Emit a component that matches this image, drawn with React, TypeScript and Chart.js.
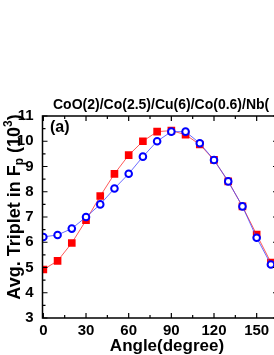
import React, { useEffect, useRef } from "react";
import { Chart, registerables } from "chart.js";

Chart.register(...registerables);

const angles = [0, 10, 20, 30, 40, 50, 60, 70, 80, 90, 100, 110, 120, 130, 140, 150, 160];
const redSquares = [4.92, 5.26, 5.97, 6.87, 7.83, 8.71, 9.45, 10.0, 10.38, 10.42, 10.26, 9.87, 9.26, 8.41, 7.42, 6.3, 5.2];
const blueCircles = [6.21, 6.29, 6.54, 7.0, 7.5, 8.13, 8.71, 9.39, 10.0, 10.38, 10.38, 9.92, 9.26, 8.41, 7.42, 6.18, 5.12];
const xTicks = [0, 30, 60, 90, 120, 150];
const yTicks = [3, 4, 5, 6, 7, 8, 9, 10, 11];
const titleText = "CoO(2)/Co(2.5)/Cu(6)/Co(0.6)/Nb(";
const panelLabel = "(a)";
const xTitle = "Angle(degree)";

const FONT = "'Liberation Sans', Arial, sans-serif";
const CW = 310;
const CH = 355;

const framePlugin = {
  id: "frame",
  afterDraw(chart: any) {
    const ctx = chart.ctx;
    const ca = chart.chartArea;
    const xs = chart.scales.x;
    const ys = chart.scales.y;
    ctx.save();
    ctx.strokeStyle = "#000";
    ctx.lineWidth = 1.5;
    ctx.beginPath();
    ctx.moveTo(ca.left, ca.top);
    ctx.lineTo(ca.right, ca.top);
    ctx.lineTo(ca.right, ca.bottom);
    ctx.lineTo(ca.left, ca.bottom);
    ctx.closePath();
    ctx.stroke();
    ctx.lineWidth = 1.2;
    for (let v = 0; v <= 165; v += 15) {
      const px = xs.getPixelForValue(v);
      const len = v % 30 === 0 ? 5 : 3;
      ctx.beginPath();
      ctx.moveTo(px, ca.bottom);
      ctx.lineTo(px, ca.bottom - len);
      ctx.moveTo(px, ca.top);
      ctx.lineTo(px, ca.top + len);
      ctx.stroke();
    }
    for (let v = 3; v <= 11.001; v += 0.5) {
      const py = ys.getPixelForValue(v);
      const len = Math.abs(v - Math.round(v)) < 0.01 ? 5 : 3;
      ctx.beginPath();
      ctx.moveTo(ca.left, py);
      ctx.lineTo(ca.left + len, py);
      ctx.moveTo(ca.right, py);
      ctx.lineTo(ca.right - len, py);
      ctx.stroke();
    }
    ctx.fillStyle = "#000";
    ctx.textBaseline = "middle";
    ctx.textAlign = "left";
    ctx.font = `bold 14px ${FONT}`;
    ctx.fillText(titleText, 53, 105);
    ctx.font = `bold 16px ${FONT}`;
    ctx.fillText(panelLabel, 50, 128);
    ctx.textAlign = "center";
    ctx.font = `bold 17px ${FONT}`;
    ctx.fillText(xTitle, 167, 346);
    ctx.save();
    ctx.translate(15, 207);
    ctx.rotate(-Math.PI / 2);
    const big = `bold 18px ${FONT}`;
    const small = `bold 12px ${FONT}`;
    const parts = [
      { t: "Avg. Triplet in F", f: big, dy: 0 },
      { t: "p", f: small, dy: 5 },
      { t: " (10", f: big, dy: 0 },
      { t: "3", f: small, dy: -6 },
      { t: ")", f: big, dy: 0 },
    ];
    let total = 0;
    for (const p of parts) {
      ctx.font = p.f;
      total += ctx.measureText(p.t).width;
    }
    let x = -total / 2;
    ctx.textAlign = "left";
    for (const p of parts) {
      ctx.font = p.f;
      ctx.fillText(p.t, x, p.dy);
      x += ctx.measureText(p.t).width;
    }
    ctx.restore();
    ctx.restore();
  },
};

export default function App() {
  const ref = useRef<HTMLCanvasElement | null>(null);
  useEffect(() => {
    if (!ref.current) return;
    const chart = new Chart(ref.current, {
      type: "line",
      data: {
        datasets: [
          {
            label: "blue",
            data: angles.map((a, i) => ({ x: a, y: blueCircles[i] })),
            borderColor: "rgba(70,70,255,0.8)",
            borderWidth: 1,
            pointStyle: "circle",
            pointRadius: 3.3,
            pointBorderWidth: 2,
            pointBorderColor: "#0000ff",
            pointBackgroundColor: "#ffffff",
            tension: 0,
          },
          {
            label: "red",
            data: angles.map((a, i) => ({ x: a, y: redSquares[i] })),
            borderColor: "rgba(255,60,60,0.85)",
            borderWidth: 1,
            pointStyle: "rect",
            pointRadius: 5.4,
            pointBorderWidth: 0,
            pointBackgroundColor: "#ff0000",
            pointBorderColor: "#ff0000",
            tension: 0,
          },
        ],
      },
      options: {
        animation: false,
        responsive: false,
        maintainAspectRatio: false,
        layout: { autoPadding: false, padding: { left: 0, top: 116, right: CW - 278, bottom: 0 } } as any,
        plugins: { legend: { display: false }, tooltip: { enabled: false }, title: { display: false } },
        scales: {
          x: {
            type: "linear",
            min: -0.6,
            max: 165,
            afterBuildTicks: (s: any) => {
              s.ticks = xTicks.map((v) => ({ value: v }));
            },
            afterFit: (s: any) => {
              s.height = 37;
            },
            grid: { display: false, drawTicks: false },
            border: { display: false },
            ticks: {
              padding: 4,
              maxRotation: 0,
              autoSkip: false,
              color: "#000",
              font: { family: FONT, size: 15, weight: "bold" },
            },
          },
          y: {
            type: "linear",
            min: 3,
            max: 11,
            afterBuildTicks: (s: any) => {
              s.ticks = yTicks.map((v) => ({ value: v }));
            },
            afterFit: (s: any) => {
              s.width = 42.5;
            },
            grid: { display: false, drawTicks: false },
            border: { display: false },
            ticks: {
              padding: 9,
              autoSkip: false,
              color: "#000",
              font: { family: FONT, size: 15, weight: "bold" },
            },
          },
        },
      },
      plugins: [framePlugin],
    } as any);
    return () => chart.destroy();
  }, []);
  return (
    <div style={{ position: "absolute", left: 0, top: 0, width: 274, height: 355, overflow: "hidden", background: "#fff" }}>
      <canvas ref={ref} width={CW} height={CH} style={{ width: CW, height: CH, display: "block" }} />
    </div>
  );
}
